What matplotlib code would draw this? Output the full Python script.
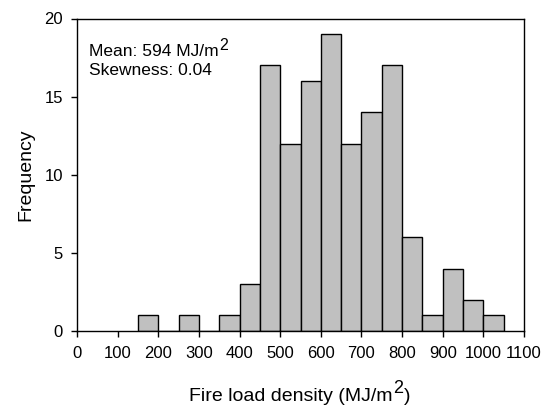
import numpy as np
import matplotlib
matplotlib.use('Agg')
import matplotlib.pyplot as plt

plt.rcParams['font.family'] = ['Liberation Sans', 'DejaVu Sans']

# histogram bins (MJ/m2), width 50
bin_left = [150, 200, 250, 300, 350, 400, 450, 500, 550, 600,
            650, 700, 750, 800, 850, 900, 950, 1000]
counts = [1, 0, 1, 0, 1, 3, 17, 12, 16, 19,
          12, 14, 17, 6, 1, 4, 2, 1]
bin_width = 50

W, H = 554, 407
fig = plt.figure(figsize=(W / 100, H / 100), dpi=100)
ax = fig.add_axes([77 / W, 1 - 331 / H, (524 - 77) / W, (331 - 18.5) / H])

ax.bar(bin_left, counts, width=bin_width, align='edge',
       color='#c0c0c0', edgecolor='black', linewidth=1.0)

ax.set_xlim(0, 1100)
ax.set_ylim(0, 20)
ax.set_xticks(np.arange(0, 1101, 100))
ax.set_yticks([0, 5, 10, 15, 20])
ax.tick_params(direction='out', length=4, width=1, labelsize=12)
ax.tick_params(axis='x', pad=6.5)
ax.tick_params(axis='y', pad=6)
for s in ax.spines.values():
    s.set_linewidth(1)

ax.set_ylabel('Frequency', fontsize=14, labelpad=7)


def sup_text(x, y, base, sup, tail, size, sup_size, rise):
    """text with a big Excel-like superscript, x/y = left/baseline in pixels from top-left"""
    yb = H - y
    t1 = fig.text(x / W, yb / H, base, fontsize=size, ha='left', va='baseline')
    t2 = ax.annotate(sup, xy=(1, yb + rise), xycoords=(t1, 'figure pixels'),
                     xytext=(0.6, 0), textcoords='offset points',
                     fontsize=sup_size, va='baseline', ha='left',
                     annotation_clip=False)
    if tail:
        ax.annotate(tail, xy=(1, yb), xycoords=(t2, 'figure pixels'),
                    xytext=(0.4, 0), textcoords='offset points',
                    fontsize=size, va='baseline', ha='left',
                    annotation_clip=False)


sup_text(89, 56.5, 'Mean: 594 MJ/m', '2', '', 12.5, 11.5, 6.5)
fig.text(89 / W, 1 - 75 / H, 'Skewness: 0.04', fontsize=12.5, va='baseline')

sup_text(189, 401, 'Fire load density (MJ/m', '2', ')', 14, 13, 8)

fig.savefig('out.png', dpi=100)
